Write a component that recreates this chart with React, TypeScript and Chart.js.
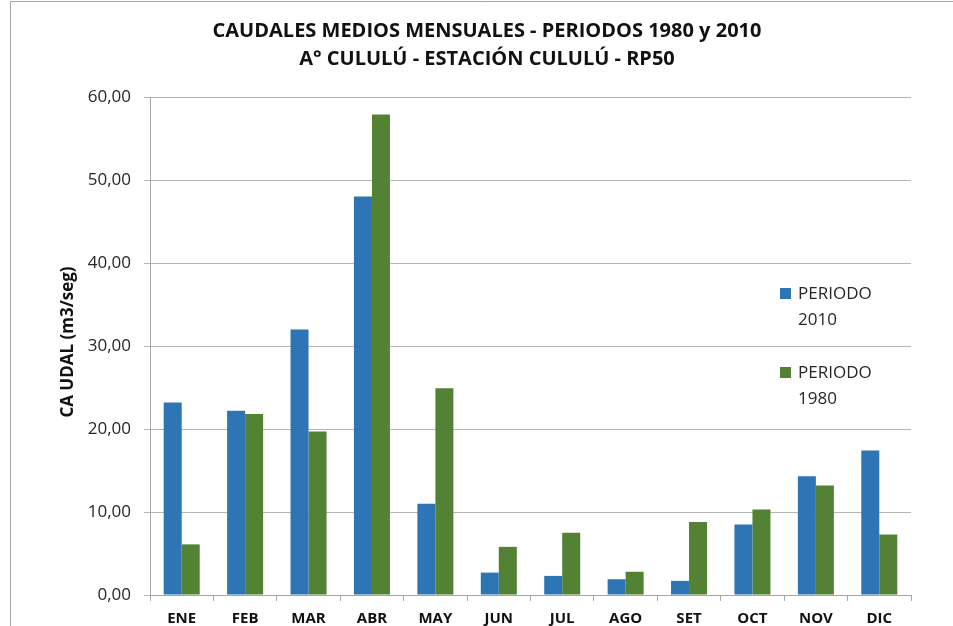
import React, { useEffect, useRef } from "react";
import { Chart, registerables } from "chart.js";

Chart.register(...registerables);

const categories = ["ENE", "FEB", "MAR", "ABR", "MAY", "JUN", "JUL", "AGO", "SET", "OCT", "NOV", "DIC"];
const periodo2010 = [23.2, 22.2, 32.0, 48.0, 11.0, 2.7, 2.3, 1.9, 1.7, 8.5, 14.3, 17.4];
const periodo1980 = [6.1, 21.8, 19.7, 57.9, 24.9, 5.8, 7.5, 2.8, 8.8, 10.3, 13.2, 7.3];
const seriesLabels = [["PERIODO", "2010"], ["PERIODO", "1980"]];
const titleLines = ["CAUDALES MEDIOS MENSUALES - PERIODOS 1980 y 2010", "A° CULULÚ - ESTACIÓN CULULÚ - RP50"];
const yAxisTitle = "CA UDAL (m3/seg)";
const colors = ["#2E75B6", "#548235"];

const textPlugin = {
  id: "texts",
  beforeDraw(chart: any) {
    const ctx = chart.ctx;
    ctx.save();
    ctx.strokeStyle = "#A6A6A6";
    ctx.lineWidth = 1;
    ctx.beginPath();
    ctx.moveTo(10.5, 626);
    ctx.lineTo(10.5, 1.5);
    ctx.lineTo(953, 1.5);
    ctx.stroke();
    ctx.restore();
  },
  afterDraw(chart: any) {
    const ctx = chart.ctx;
    const area = chart.chartArea;
    ctx.save();
    ctx.fillStyle = "#111111";
    ctx.textAlign = "center";
    ctx.textBaseline = "middle";
    ctx.font = "bold 20px 'Open Sans'";
    ctx.fillText(titleLines[0], 487, 31);
    ctx.fillText(titleLines[1], 487, 59);

    ctx.save();
    ctx.translate(68, (area.top + area.bottom) / 2 - 4);
    ctx.rotate(-Math.PI / 2);
    ctx.font = "bold 17px 'Open Sans'";
    ctx.fillText(yAxisTitle, 0, 0);
    ctx.restore();

    ctx.textAlign = "left";
    ctx.font = "17px 'Open Sans'";
    chart.data.datasets.forEach((ds: any, i: number) => {
      const baseY = 294 + i * 79;
      ctx.fillStyle = ds.backgroundColor;
      ctx.fillRect(780, baseY - 6, 11, 11);
      ctx.fillStyle = "#262626";
      seriesLabels[i].forEach((line, j) => {
        ctx.fillText(line, 798, baseY + j * 26);
      });
    });
    ctx.restore();
  },
};

export default function App() {
  const ref = useRef<HTMLCanvasElement>(null);
  useEffect(() => {
    if (!ref.current) return;
    const chart = new Chart(ref.current, {
      type: "bar",
      data: {
        labels: categories,
        datasets: [
          { label: seriesLabels[0].join(" "), data: periodo2010, backgroundColor: colors[0] },
          { label: seriesLabels[1].join(" "), data: periodo1980, backgroundColor: colors[1] },
        ],
      },
      options: {
        responsive: false,
        animation: false,
        layout: { padding: { top: 97, right: 42, bottom: 0, left: 0 } },
        datasets: { bar: { categoryPercentage: 0.568, barPercentage: 1.0 } },
        plugins: {
          legend: { display: false },
          title: { display: false },
          tooltip: { enabled: false },
        },
        scales: {
          x: {
            grid: { drawOnChartArea: false, drawTicks: true, tickLength: 6, color: "#A6A6A6", offset: true },
            border: { color: "#A6A6A6" },
            ticks: { color: "#111111", font: { family: "'Open Sans'", size: 15, weight: "bold" }, padding: 9, maxRotation: 0 },
            afterFit: (s: any) => { s.height = 31; },
          },
          y: {
            min: 0,
            max: 60,
            ticks: {
              stepSize: 10,
              color: "#262626",
              font: { family: "'Open Sans'", size: 17 },
              padding: 13,
              callback: (v: any) => Number(v).toFixed(2).replace(".", ","),
            },
            grid: { color: "#B5B5B5", tickLength: 6 },
            border: { color: "#A6A6A6" },
            afterFit: (s: any) => { s.width = 150; },
          },
        },
      },
      plugins: [textPlugin],
    });
    return () => chart.destroy();
  }, []);
  return (
    <div style={{ position: "fixed", left: 0, top: 0, width: 953, height: 626, background: "#fff" }}>
      <canvas ref={ref} width={953} height={626} style={{ display: "block" }} />
    </div>
  );
}
